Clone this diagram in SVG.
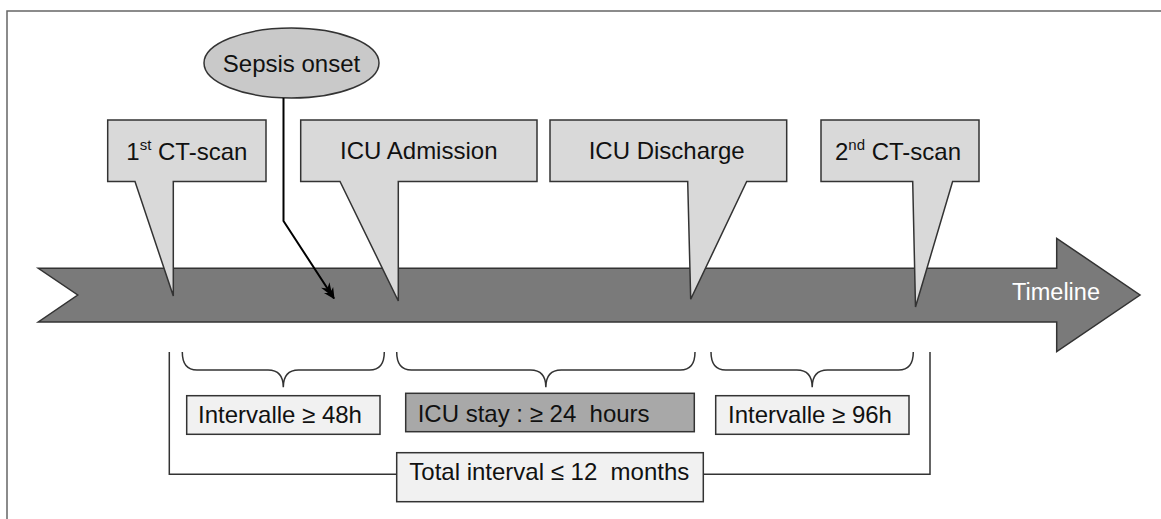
<svg xmlns="http://www.w3.org/2000/svg" width="1161" height="519" viewBox="0 0 1161 519">
<defs>
<style>
text{font-family:"Liberation Sans",Arial,sans-serif;font-size:24px;fill:#111}
.callout{fill:#d9d9d9;stroke:#333;stroke-width:1.5;stroke-linejoin:miter}
.brace{fill:none;stroke:#333;stroke-width:1.5}
.lbox{fill:#f1f1f1;stroke:#333;stroke-width:1.5}
.dbox{fill:#a8a8a8;stroke:#333;stroke-width:1.5}
.c{text-anchor:middle}
</style>
<marker id="ah" markerUnits="userSpaceOnUse" viewBox="0 0 20 12" refX="19" refY="6" markerWidth="20" markerHeight="12" orient="auto">
<path d="M20,6 L9,0.5 L11,4 L3,1 L7,6 L3,11 L11,8 L9,11.5 Z" fill="#000"/>
</marker>
</defs>
<rect width="1161" height="519" fill="#fff"/>
<path d="M7,519 V11 H1161" fill="none" stroke="#666" stroke-width="1.5"/>

<g id="timeline">
<polygon points="38.3,268.3 1056.7,268.3 1056.7,238.3 1140,295 1056.7,351.7 1056.7,322 38.3,322 77.7,295" fill="#7a7a7a" stroke="#333" stroke-width="1.5"/>
<text x="1056" y="300" class="c" style="fill:#fff;font-size:23.5px">Timeline</text>
</g>

<g id="sepsis">
<ellipse cx="291.5" cy="63" rx="87.5" ry="35" fill="#c9c9c9" stroke="#333" stroke-width="1.5"/>
<text x="291.5" y="72" class="c">Sepsis onset</text>
</g>

<g id="connectors">
<polyline points="283.5,98 283.5,221 334,298.5" fill="none" stroke="#000" stroke-width="2" marker-end="url(#ah)"/>
<path class="brace" d="M182.3,352 Q182.3,370 197,370 H268 Q283.3,370 283.3,387.3 Q283.3,370 298.6,370 H369.6 Q384.3,370 384.3,352"/>
<path class="brace" d="M396.7,352 Q396.7,370 411.4,370 H530.5 Q545.85,370 545.85,387.3 Q545.85,370 561.2,370 H680.3 Q695,370 695,352"/>
<path class="brace" d="M711,352 Q711,370 725.7,370 H796.9 Q812.2,370 812.2,387.3 Q812.2,370 827.5,370 H898.6 Q913.3,370 913.3,352"/>
<path class="brace" d="M169.3,352 V474.3 H396.7 M703.3,474.3 H930 V352"/>
</g>

<g id="ct1">
<path class="callout" d="M107.7,120 H266 V181.5 H173.3 V296 L135,181.5 H107.7 Z"/>
<text x="186.8" y="160" class="c">1<tspan font-size="15" dy="-10">st</tspan><tspan dy="10"> CT-scan</tspan></text>
</g>

<g id="icu-admission">
<path class="callout" d="M300.7,120 H537 V181.5 H398.3 V301 L340,181.5 H300.7 Z"/>
<text x="418.8" y="159" class="c">ICU Admission</text>
</g>

<g id="icu-discharge">
<path class="callout" d="M550,120 H786.7 V181.5 H746.7 L690.7,299.3 L687.7,181.5 H550 Z"/>
<text x="666.7" y="159" class="c">ICU Discharge</text>
</g>

<g id="ct2">
<path class="callout" d="M821,120 H979 V181.5 H952.6 L915.5,307 L912.7,181.5 H821 Z"/>
<text x="898" y="160" class="c">2<tspan font-size="15" dy="-10">nd</tspan><tspan dy="10"> CT-scan</tspan></text>
</g>

<g id="interval-48">
<rect class="lbox" x="186.7" y="395.7" width="193.3" height="38.6"/>
<text x="280" y="423.3" class="c">Intervalle ≥ 48h</text>
</g>

<g id="icu-stay">
<rect class="dbox" x="405.7" y="393.3" width="288.6" height="38.4"/>
<text x="417.7" y="421.7" xml:space="preserve">ICU stay : ≥ 24  hours</text>
</g>

<g id="interval-96">
<rect class="lbox" x="715.7" y="395.7" width="193.3" height="38.6"/>
<text x="810" y="423.3" class="c">Intervalle ≥ 96h</text>
</g>

<g id="total">
<rect class="lbox" x="396.7" y="452.7" width="306.6" height="49"/>
<text x="549.3" y="480" class="c" xml:space="preserve">Total interval ≤ 12  months</text>
</g>
</svg>
